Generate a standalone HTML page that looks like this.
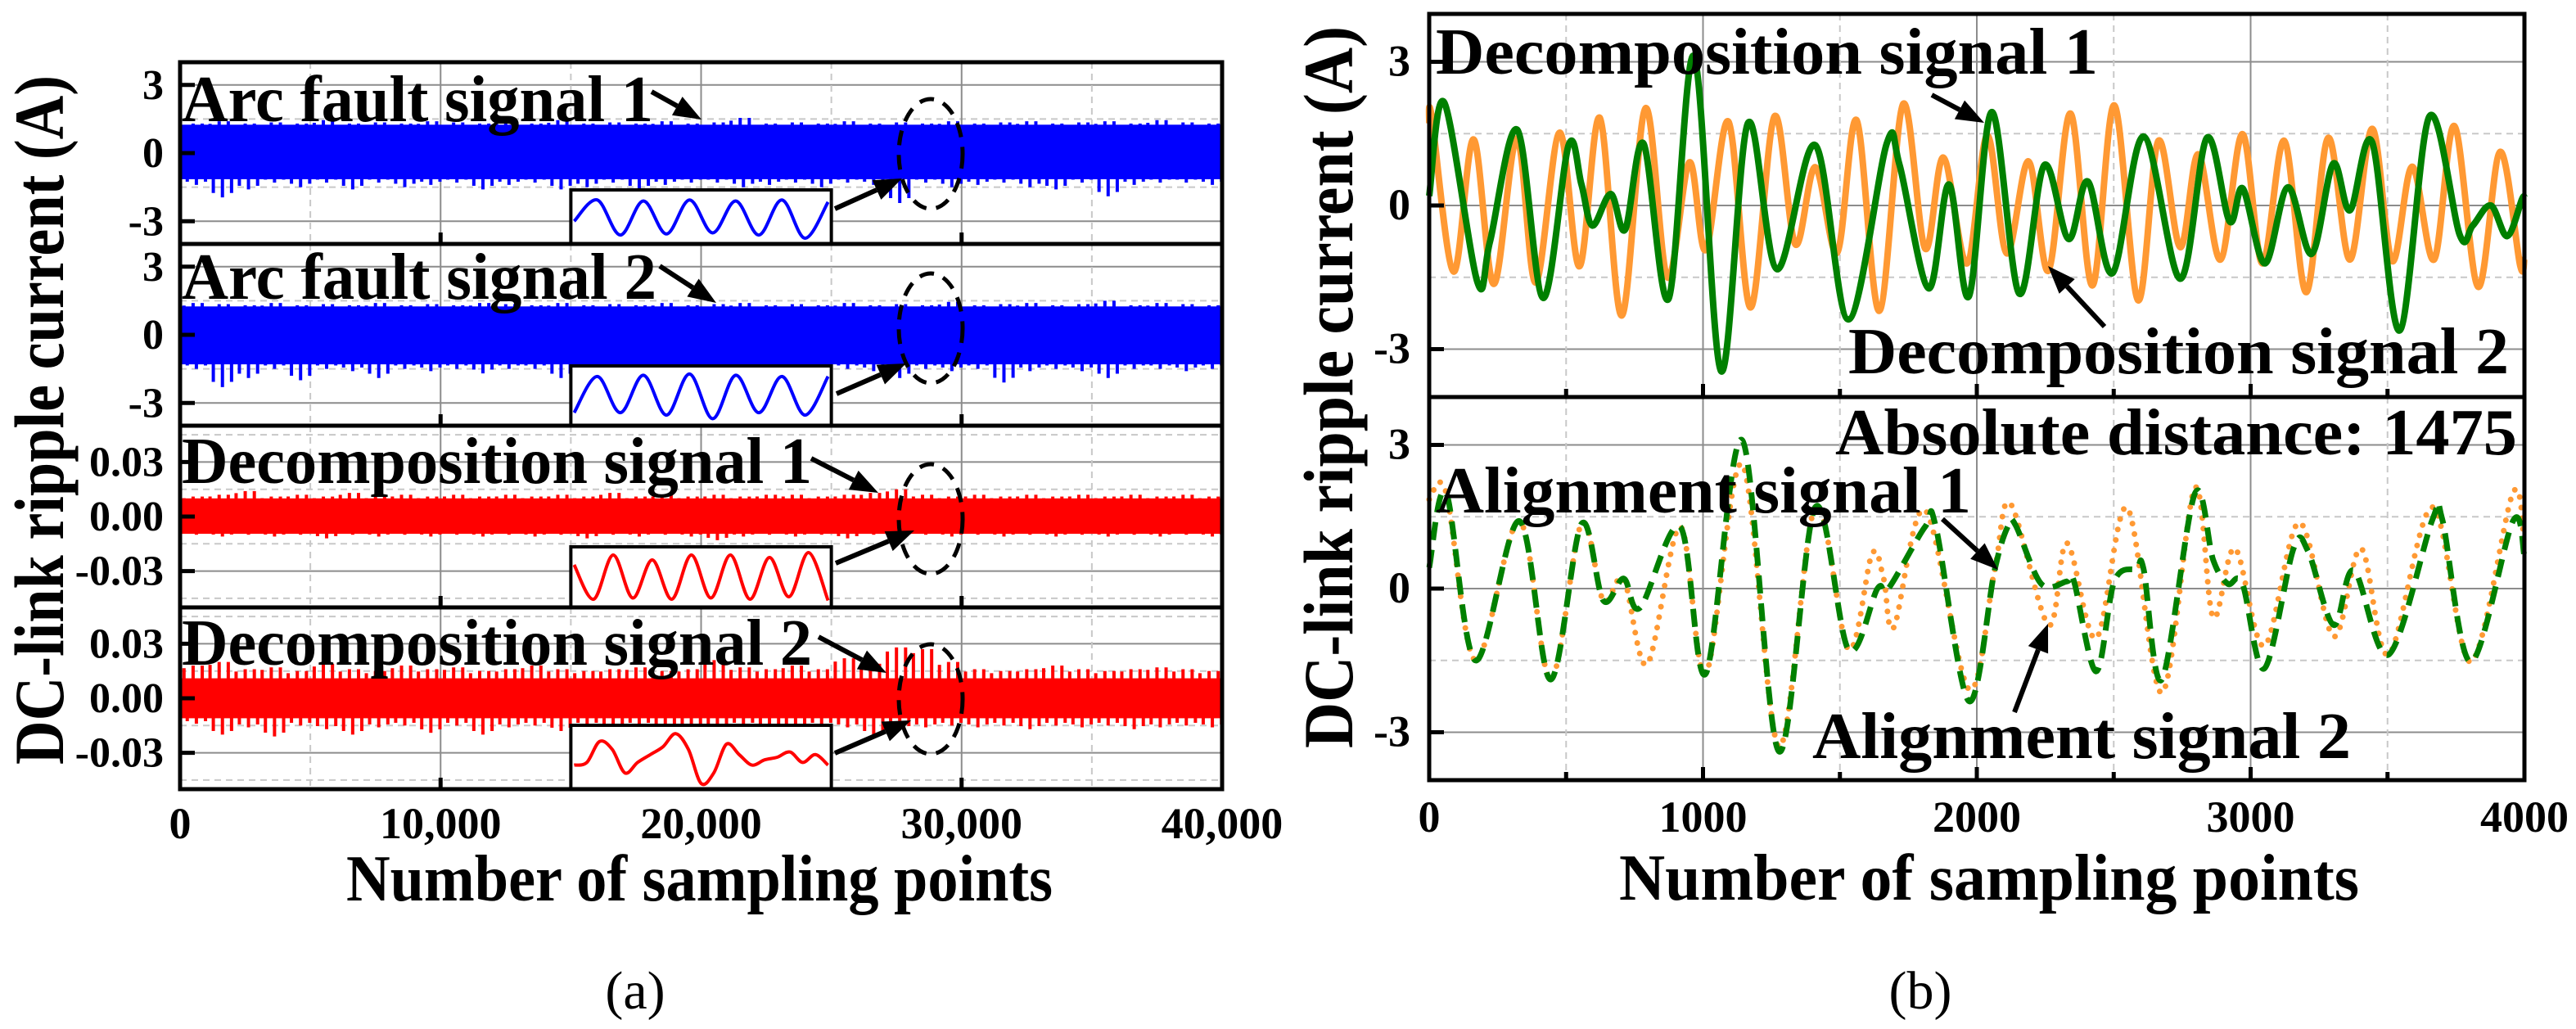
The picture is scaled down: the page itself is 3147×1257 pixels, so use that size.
<!DOCTYPE html>
<html><head><meta charset="utf-8">
<style>
html,body{margin:0;padding:0;background:#fff;}
svg{display:block;}
svg text{font-family:"Liberation Serif","DejaVu Serif",serif;}
</style></head>
<body>
<svg id="fig" width="3147" height="1257" viewBox="0 0 3147 1257" xmlns="http://www.w3.org/2000/svg" font-family="Liberation Serif, DejaVu Serif, serif">
<g id="bg"></g><g id="marks"></g><g id="fg"></g>
</svg>
<script>
// ---------- (a) data: per-1000-sample envelope bins ----------
const arc1Upper=[1.3,1.4,1.3,1.35,1.3,1.45,1.3,1.35,1.3,1.4,1.35,1.3,1.4,1.3,1.45,1.3,1.35,1.3,1.4,1.3,1.35,1.55,1.3,1.35,1.3,1.4,1.3,1.35,1.3,1.4,1.3,1.35,1.4,1.3,1.35,1.4,1.3,1.45,1.35,1.3];
const arc1Lower=[-1.4,-1.95,-1.6,-1.3,-1.5,-1.3,-1.6,-1.3,-1.5,-1.4,-1.3,-1.6,-1.4,-1.3,-1.6,-1.5,-1.3,-1.6,-1.4,-1.3,-1.3,-1.5,-1.4,-1.3,-1.5,-1.3,-1.4,-2.2,-1.3,-1.5,-1.4,-1.3,-1.5,-1.6,-1.3,-1.9,-1.4,-1.3,-1.3,-1.4];
const arc2Upper=[1.4,1.35,1.3,1.4,1.3,1.35,1.3,1.4,1.3,1.35,1.3,1.4,1.35,1.3,1.4,1.3,1.35,1.3,1.4,1.3,1.35,1.4,1.3,1.35,1.3,1.4,1.3,1.35,1.3,1.45,1.3,1.35,1.4,1.3,1.35,1.5,1.3,1.4,1.35,1.3];
const arc2Lower=[-1.5,-2.3,-1.9,-1.5,-2.0,-1.5,-1.6,-1.9,-1.5,-1.6,-1.5,-1.7,-1.5,-1.5,-1.9,-1.6,-1.5,-1.7,-1.5,-1.5,-1.6,-1.5,-1.5,-1.6,-1.5,-1.5,-1.6,-1.9,-1.5,-1.6,-1.5,-2.1,-1.6,-1.5,-1.6,-1.9,-1.5,-1.5,-1.6,-1.5];
const dec1Upper=[0.011,0.012,0.014,0.011,0.012,0.011,0.013,0.011,0.012,0.011,0.012,0.011,0.012,0.011,0.012,0.011,0.013,0.011,0.012,0.011,0.012,0.011,0.012,0.012,0.011,0.012,0.013,0.015,0.012,0.011,0.012,0.011,0.012,0.011,0.012,0.011,0.012,0.011,0.012,0.011];
const dec1Lower=[-0.010,-0.011,-0.010,-0.011,-0.010,-0.012,-0.010,-0.011,-0.010,-0.011,-0.010,-0.011,-0.010,-0.011,-0.010,-0.012,-0.010,-0.011,-0.010,-0.011,-0.013,-0.011,-0.010,-0.011,-0.010,-0.012,-0.010,-0.011,-0.010,-0.011,-0.010,-0.011,-0.010,-0.011,-0.010,-0.011,-0.010,-0.011,-0.010,-0.011];
const dec2Upper=[0.018,0.020,0.016,0.017,0.015,0.019,0.016,0.015,0.018,0.016,0.017,0.015,0.016,0.018,0.016,0.015,0.016,0.017,0.015,0.016,0.021,0.017,0.016,0.018,0.016,0.022,0.019,0.028,0.027,0.020,0.016,0.015,0.016,0.018,0.016,0.015,0.016,0.017,0.016,0.015];
const dec2Lower=[-0.014,-0.020,-0.016,-0.021,-0.015,-0.017,-0.020,-0.016,-0.015,-0.019,-0.015,-0.020,-0.016,-0.015,-0.018,-0.015,-0.016,-0.015,-0.017,-0.016,-0.018,-0.015,-0.016,-0.017,-0.015,-0.016,-0.020,-0.017,-0.016,-0.015,-0.016,-0.015,-0.017,-0.015,-0.016,-0.015,-0.017,-0.016,-0.015,-0.016];
const insetArc1=[-0.2,0.8,-0.85,0.75,-0.8,0.8,-0.75,0.75,-0.85,0.8,-1,0.7];
const insetArc2=[-0.7,0.8,-0.7,0.85,-0.8,0.9,-0.95,0.85,-0.7,0.8,-0.8,0.8];
const insetDec1=[0.5,-0.9,0.9,-0.85,0.7,-0.9,0.9,-0.85,0.9,-0.9,0.8,-0.8,1.0,-0.95];
const insetDec2=[-0.3,-0.2,0.6,0.3,-0.6,-0.2,0.1,0.4,0.9,0.3,-1.0,-0.6,0.5,0.1,-0.3,-0.1,0.0,0.2,-0.2,0.1,-0.3];
const xTicksA=[0,10000,20000,30000,40000];
const xTickLabelsA=["0","10,000","20,000","30,000","40,000"];
const yTicksArc=[3,0,-3];
const yTickLabelsArc=["3","0","-3"];
const yTicksDec=[0.03,0,-0.03];
const yTickLabelsDec=["0.03","0.00","-0.03"];
// ---------- (b) data ----------
const dec1X=[0,55,176,222,322,416,509,556,596,663,716,783,874,967,1066,1164,1270,1410,1531,1671,1718,1824,1898,1971,2055,2155,2246,2335,2406,2496,2609,2743,2840,2923,2972,3052,3136,3223,3301,3363,3444,3544,3653,3764,3811,3877,3937,3991,4000];
const dec1Y=[0.2,2.15,-1.6,-0.75,1.58,-1.93,1.26,0.44,-0.42,0.24,-0.5,1.29,-1.95,3.12,-3.46,1.72,-1.33,1.26,-2.38,1.29,0.84,-1.73,0.44,-1.9,1.95,-1.84,0.84,-0.7,0.5,-1.41,1.44,-1.53,1.41,-0.33,0.35,-1.21,0.38,-1.01,0.87,-0.1,1.32,-2.61,1.86,-0.62,-0.42,0.0,-0.64,0.13,0.15];
const dec2X=[0,9,89,162,236,320,389,476,549,623,703,790,870,950,1010,1093,1174,1261,1337,1410,1490,1561,1644,1731,1811,1878,1964,2038,2109,2189,2262,2342,2422,2502,2589,2663,2743,2809,2890,2970,3043,3123,3203,3283,3363,3444,3517,3590,3670,3744,3831,3911,3984,4000];
const dec2Y=[1.7,1.86,-1.38,1.38,-1.64,1.4,-1.61,1.52,-1.27,1.83,-2.3,2.03,-1.5,0.9,-0.93,1.75,-2.13,1.86,-0.81,0.8,-0.99,1.78,-2.2,2.12,-0.9,1.0,-1.21,1.46,-1.0,0.92,-1.36,1.92,-1.67,2.09,-1.98,1.35,-0.87,1.07,-1.13,1.49,-1.21,1.35,-1.81,1.41,-1.13,1.6,-1.16,0.81,-1.13,1.66,-1.7,1.12,-1.24,-1.1];
const ali1X=[0,62,169,329,443,556,636,710,770,917,1010,1143,1277,1410,1531,1637,1677,1811,1850,1971,2065,2115,2142,2235,2329,2355,2436,2502,2582,2609,2676,2796,2863,2916,2970,3050,3157,3210,3303,3377,3504,3664,3700,3804,3958,4000];
const ali1Y=[0.44,2.0,-1.5,1.41,-1.9,1.35,-0.25,0.21,-0.4,1.29,-1.78,3.1,-3.4,1.7,-1.27,0.0,0.0,1.29,1.3,-2.35,0.38,1.32,1.32,0.1,0.15,0.15,-1.73,0.15,0.41,0.41,-1.9,1.98,0.6,0.1,0.1,-1.67,0.84,0.78,-0.76,0.38,-1.38,1.44,1.44,-1.53,1.41,0.67];
const ali2X=[0,62,169,329,443,556,636,710,796,917,1010,1143,1277,1410,1531,1617,1660,1697,1811,1971,2065,2122,2262,2329,2436,2549,2676,2796,2863,2943,3050,3177,3303,3403,3504,3664,3804,3958,4000];
const ali2Y=[1.86,2.0,-1.5,1.41,-1.9,1.35,-0.25,0.2,-1.58,1.29,-1.78,2.6,-3.3,1.7,-1.27,0.72,0.2,-0.81,1.64,-2.1,0.38,1.78,-0.76,0.95,-1.04,1.69,-2.18,2.1,-0.6,0.84,-1.2,1.38,-1.0,0.84,-1.38,1.7,-1.53,2.0,0.9];
const xTicksB=[0,1000,2000,3000,4000];
const yTicksB=[3,0,-3];

// ---------- geometry ----------
const NS="http://www.w3.org/2000/svg";
const FONT='"Liberation Serif","DejaVu Serif",serif';
const bg=document.getElementById('bg'),marks=document.getElementById('marks'),fg=document.getElementById('fg');
function mk(tag,attrs,parent){const e=document.createElementNS(NS,tag);for(const k in attrs)e.setAttribute(k,attrs[k]);(parent||fg).appendChild(e);return e;}
const A={x0:220,x1:1493,tops:[76,298,520,742],h:222};
const xa=v=>A.x0+v/40000*(A.x1-A.x0);
const B={x0:1746,x1:3084,tops:[17,485],h:468};
const xb=v=>B.x0+v/4000*(B.x1-B.x0);
function yP(top,h,range){return v=>top+h/2-v/range*(h/2);}
function smooth(pts){let d='M'+pts[0][0].toFixed(1)+','+pts[0][1].toFixed(1);
 for(let i=0;i<pts.length-1;i++){const p0=pts[i-1]||pts[i],p1=pts[i],p2=pts[i+1],p3=pts[i+2]||p2;
  const c1=[p1[0]+(p2[0]-p0[0])/6,p1[1]+(p2[1]-p0[1])/6],c2=[p2[0]-(p3[0]-p1[0])/6,p2[1]-(p3[1]-p1[1])/6];
  d+=`C${c1[0].toFixed(1)},${c1[1].toFixed(1)} ${c2[0].toFixed(1)},${c2[1].toFixed(1)} ${p2[0].toFixed(1)},${p2[1].toFixed(1)}`;}
 return d;}
function txt(s,x,y,size,opts){const o=opts||{};const t=mk('text',{x:x,y:y,'font-size':size,'font-weight':o.w||'bold','text-anchor':o.anchor||'start',fill:'#000'});
 t.style.fontFamily=FONT;
 if(o.len){t.setAttribute('textLength',o.len);t.setAttribute('lengthAdjust','spacingAndGlyphs');}
 if(o.rot)t.setAttribute('transform',o.rot);t.textContent=s;return t;}
function arrow(x1,y1,x2,y2){const g=mk('g',{});
 
 const dx=x2-x1,dy=y2-y1,L=Math.hypot(dx,dy),ux=dx/L,uy=dy/L,hl=34,hw=13;
 const bx=x2-ux*hl,by=y2-uy*hl;
 mk('line',{x1:x1,y1:y1,x2:bx,y2:by,stroke:'#000','stroke-width':6},g);
 mk('polygon',{points:`${x2},${y2} ${bx-uy*hw},${by+ux*hw} ${bx+uy*hw},${by-ux*hw}`,fill:'#000'},g);}

// ---------- panel (a) ----------
const arcU=[arc1Upper,arc2Upper,dec1Upper,dec2Upper],arcL=[arc1Lower,arc2Lower,dec1Lower,dec2Lower];
const bodyCap=[[1.25,1.15],[1.25,1.3],[0.010,0.0095],[0.011,0.011]];
const insets=[insetArc1,insetArc2,insetDec1,insetDec2];
const insetTops=[232,447,668,886];
const labelsA=["Arc fault signal 1","Arc fault signal 2","Decomposition signal 1","Decomposition signal 2"];
const labelLen=[576,580,770,770];
const labelBase=[148,365,590,812];
const labArrows=[[796,112,857,146],[806,325,875,370],[991,560,1073,602],[1000,778,1083,822]];
const insArrows=[[1020,255,1102,218],[1022,481,1107,444],[1021,688,1117,648],[1020,920,1113,880]];
const ellC=[188,401,634,854];
const names=['arc-fault-signal-1','arc-fault-signal-2','decomposition-signal-1','decomposition-signal-2'];
for(let p=0;p<4;p++){
 const top=A.tops[p],isArc=p<2,range=isArc?4:0.05,y=yP(top,A.h,range),col=isArc?'#0000ff':'#ff0000';
 const ticks=isArc?yTicksArc:yTicksDec,tl=isArc?yTickLabelsArc:yTickLabelsDec;
 const minor=isArc?[1.5,-1.5]:[0.045,0.015,-0.015,-0.045];
 minor.forEach(v=>mk('line',{x1:A.x0,x2:A.x1,y1:y(v),y2:y(v),stroke:'#c8c8c8','stroke-width':2,'stroke-dasharray':'8 6'},bg));
 ticks.forEach(v=>mk('line',{x1:A.x0,x2:A.x1,y1:y(v),y2:y(v),stroke:'#8c8c8c','stroke-width':2},bg));
 [5000,15000,25000,35000].forEach(v=>mk('line',{x1:xa(v),x2:xa(v),y1:top,y2:top+A.h,stroke:'#c8c8c8','stroke-width':2,'stroke-dasharray':'8 6'},bg));
 [10000,20000,30000].forEach(v=>mk('line',{x1:xa(v),x2:xa(v),y1:top,y2:top+A.h,stroke:'#8c8c8c','stroke-width':2},bg));
 const U=arcU[p],Lw=arcL[p],cu=bodyCap[p][0],cl=bodyCap[p][1];
 // solid body band
 const band=mk('rect',{x:A.x0,y:y(cu),width:A.x1-A.x0,height:y(-cl)-y(cu),fill:col},marks);
 
 
 // spikes from envelope arrays
 const n=U.length;
 for(let i=0;i<n;i++){
  [0.15,0.5,0.85].forEach((f,k)=>{
   const xx=xa((i+f)*1000);
   const uv=U[i]*(k===1?1:0.92+0.04*k),lv=Lw[i]*(k===1?1:0.9);
   const s1=mk('line',{x1:xx,x2:xx,y1:y(0),y2:y(uv),stroke:col,'stroke-width':4},marks);
   
   const s2=mk('line',{x1:xx+4,x2:xx+4,y1:y(0),y2:y(lv),stroke:col,'stroke-width':4},marks);
   
  });
 }
 ticks.forEach((v,i)=>{mk('line',{x1:A.x0,x2:A.x0+18,y1:y(v),y2:y(v),stroke:'#000','stroke-width':5});
  const t=txt(tl[i],200,y(v)+17,52,{anchor:'end'});});
 [10000,20000,30000].forEach(v=>mk('line',{x1:xa(v),x2:xa(v),y1:top+A.h,y2:top+A.h-14,stroke:'#000','stroke-width':5}));
 const it=insetTops[p],ix0=xa(15000),ix1=xa(25000),ib=top+A.h;
 const box=mk('rect',{x:ix0,y:it,width:ix1-ix0,height:ib-it,fill:'#fff',stroke:'#000','stroke-width':4});
 
 const iv=insets[p],ih=(ib-it)/2-7,icy=(it+ib)/2;
 const ipts=iv.map((v,i)=>[ix0+4+i/(iv.length-1)*(ix1-ix0-8),icy-v*ih]);
 const ipath=mk('path',{d:smooth(ipts),fill:'none',stroke:col,'stroke-width':4});
 
 const el=mk('ellipse',{cx:1137,cy:ellC[p],rx:39,ry:67,fill:'none',stroke:'#000','stroke-width':5,'stroke-dasharray':'18 12'});
 
 const lb=txt(labelsA[p],222,labelBase[p],80,{len:labelLen[p]});
 
 arrow(...labArrows[p]);arrow(...insArrows[p]);
 const fr=mk('rect',{x:A.x0,y:top,width:A.x1-A.x0,height:A.h,fill:'none',stroke:'#000','stroke-width':5});
 
}
xTicksA.forEach((v,i)=>{const t=txt(xTickLabelsA[i],xa(v),1024,54,{anchor:'middle'});});
let t=txt("Number of sampling points",423,1100,80,{len:863});
t=txt("DC-link ripple current (A)",0,0,86,{len:842,anchor:'middle',rot:'translate(77,513) rotate(-90)'});
t=txt("(a)",776,1232,66,{anchor:'middle',w:'normal'});

// ---------- panel (b) ----------
for(let p=0;p<2;p++){
 const top=B.tops[p],y=yP(top,B.h,4);
 [1.5,-1.5].forEach(v=>mk('line',{x1:B.x0,x2:B.x1,y1:y(v),y2:y(v),stroke:'#c8c8c8','stroke-width':2,'stroke-dasharray':'8 6'},bg));
 yTicksB.forEach(v=>mk('line',{x1:B.x0,x2:B.x1,y1:y(v),y2:y(v),stroke:'#8c8c8c','stroke-width':2},bg));
 [500,1500,2500,3500].forEach(v=>mk('line',{x1:xb(v),x2:xb(v),y1:top,y2:top+B.h,stroke:'#c8c8c8','stroke-width':2,'stroke-dasharray':'8 6'},bg));
 [1000,2000,3000].forEach(v=>mk('line',{x1:xb(v),x2:xb(v),y1:top,y2:top+B.h,stroke:'#8c8c8c','stroke-width':2},bg));
 yTicksB.forEach(v=>{mk('line',{x1:B.x0,x2:B.x0+18,y1:y(v),y2:y(v),stroke:'#000','stroke-width':5});
  const tt=txt(String(v),1723,y(v)+17,54,{anchor:'end'});});
 [500,1000,1500,2000,2500,3000,3500].forEach(v=>mk('line',{x1:xb(v),x2:xb(v),y1:top+B.h,y2:top+B.h-(v%1000?10:16),stroke:'#000','stroke-width':5}));
}
const yT=yP(B.tops[0],B.h,4),yBt=yP(B.tops[1],B.h,4);
let s=mk('path',{d:smooth(dec2X.map((v,i)=>[xb(v),yT(dec2Y[i])])),fill:'none',stroke:'#ff9933','stroke-width':8},marks);

s=mk('path',{d:smooth(dec1X.map((v,i)=>[xb(v),yT(dec1Y[i])])),fill:'none',stroke:'#008000','stroke-width':8},marks);

s=mk('path',{d:smooth(ali2X.map((v,i)=>[xb(v),yBt(ali2Y[i])])),fill:'none',stroke:'#ff9933','stroke-width':7,'stroke-dasharray':'0 13','stroke-linecap':'round'},marks);

s=mk('path',{d:smooth(ali1X.map((v,i)=>[xb(v),yBt(ali1Y[i])])),fill:'none',stroke:'#008000','stroke-width':7,'stroke-dasharray':'22 12'},marks);

B.tops.forEach(top=>{const fr=mk('rect',{x:B.x0,y:top,width:B.x1-B.x0,height:B.h,fill:'none',stroke:'#000','stroke-width':5});
 });
t=txt("Decomposition signal 1",1754,90,80,{len:809});
t=txt("Decomposition signal 2",2258,456,80,{len:807});
t=txt("Absolute distance: 1475",2242,555,80,{len:833});
t=txt("Alignment signal 1",1754,626,80,{len:654});
t=txt("Alignment signal 2",2214,926,80,{len:658});
arrow(2360,116,2424,150);arrow(2571,399,2502,325);arrow(2373,634,2441,696);arrow(2461,870,2502,762);
xTicksB.forEach(v=>{const tt=txt(String(v),xb(v),1016,54,{anchor:'middle'});});
t=txt("Number of sampling points",1978,1099,80,{len:904});
t=txt("DC-link ripple current (A)",0,0,86,{len:882,anchor:'middle',rot:'translate(1652,473) rotate(-90)'});
t=txt("(b)",2346,1232,66,{anchor:'middle',w:'normal'});
</script>
</body></html>
